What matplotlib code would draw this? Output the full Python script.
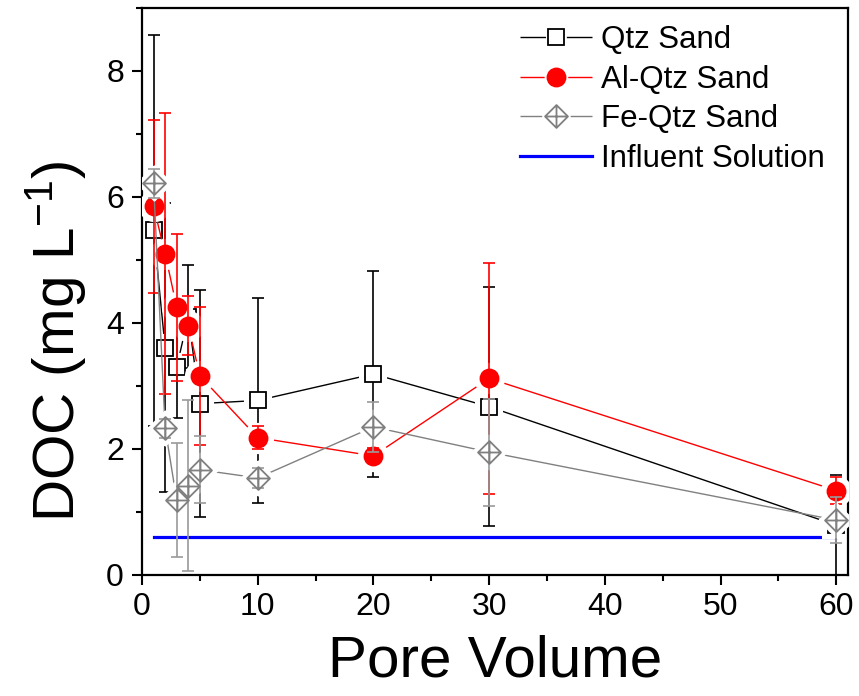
import matplotlib
matplotlib.use("Agg")
import matplotlib.pyplot as plt
from matplotlib.lines import Line2D
from matplotlib.path import Path
from matplotlib.legend_handler import HandlerTuple
from matplotlib.ticker import MultipleLocator

matplotlib.rcParams['font.family'] = ['Liberation Sans', 'DejaVu Sans']
matplotlib.rcParams['mathtext.default'] = 'regular'

# 数据
pore_volume = [1, 2, 3, 4, 5, 10, 20, 30, 60]

qtz = [5.47, 3.61, 3.30, 4.10, 2.72, 2.77, 3.19, 2.67, 0.79]
qtz_err = [3.10, 2.30, 0.81, 0.82, 1.80, 1.63, 1.64, 1.90, 0.80]

al_qtz = [5.85, 5.10, 4.25, 3.96, 3.16, 2.18, 1.89, 3.12, 1.34]
al_qtz_err = [1.37, 2.23, 1.17, 0.47, 1.10, 0.18, 0.12, 1.83, 0.22]

fe_qtz = [6.22, 2.33, 1.19, 1.42, 1.67, 1.54, 2.35, 1.95, 0.87]
fe_qtz_err = [0.23, 0.15, 0.90, 1.36, 0.53, 0.16, 0.40, 0.85, 0.37]

influent_x = [1, 60]
influent_doc = [0.60, 0.60]

labels = ['Qtz Sand', 'Al-Qtz Sand', 'Fe-Qtz Sand', 'Influent Solution']

# 菱形加十字的标记
diamond_cross = Path(
    [(0, 1), (1, 0), (0, -1), (-1, 0), (0, 1), (0, 1), (0, -1), (-1, 0), (1, 0)],
    [Path.MOVETO, Path.LINETO, Path.LINETO, Path.LINETO, Path.CLOSEPOLY,
     Path.MOVETO, Path.LINETO, Path.MOVETO, Path.LINETO])

series = [
    # y, err, 线色, 误差色, 标记, 大小, 填充
    (qtz, qtz_err, 'black', 'black', 's', 11, 'white'),
    (al_qtz, al_qtz_err, 'red', 'red', 'o', 13, 'red'),
    (fe_qtz, fe_qtz_err, '#808080', '#9a9a9a', diamond_cross, 16.5, 'none'),
]

fig = plt.figure(figsize=(8.59, 6.96), dpi=100)
ax = fig.add_axes([0.1653, 0.1739, 0.8217, 0.8146])

leg_fs = 22.5
leg_hl = 2.3
hl_pt = leg_fs * leg_hl

handles = []
z = 2
for y, err, col, ecol, mk, ms, mfc in series:
    ax.plot(pore_volume, y, color=col, lw=1.0, zorder=z)
    # 白色光晕，让折线在标记处断开
    ax.plot(pore_volume, y, ls='none', marker=mk, ms=ms + 8, mfc='white',
            mec='white', mew=1.5, zorder=z + 0.1)
    ax.errorbar(pore_volume, y, yerr=err, fmt='none', ecolor=ecol,
                elinewidth=1.2, capsize=4, capthick=1.2, zorder=z + 0.2)
    ax.plot(pore_volume, y, ls='none', marker=mk, ms=ms, mfc=mfc,
            mec=col, mew=1.3, zorder=z + 0.3)
    # 图例: 中间断开的线 + 标记
    gap = ms + 4
    seg = (hl_pt - gap) / 2
    h_line = Line2D([], [], color=col, lw=1.0, linestyle=(0, (seg, gap, seg + 10, 2)))
    h_mark = Line2D([], [], ls='none', marker=mk, ms=ms, mfc=mfc,
                    mec=col, mew=1.3)
    handles.append((h_line, h_mark))
    z += 1

inf_line, = ax.plot(influent_x, influent_doc, color='#0000ff', lw=2.3, zorder=1.5)
handles.append(inf_line)

ax.set_xlim(0, 61)
ax.set_ylim(0, 9)
ax.xaxis.set_major_locator(MultipleLocator(10))
ax.xaxis.set_minor_locator(MultipleLocator(5))
ax.yaxis.set_major_locator(MultipleLocator(2))
ax.yaxis.set_minor_locator(MultipleLocator(1))

for sp in ax.spines.values():
    sp.set_linewidth(1.6)
ax.tick_params(which='major', direction='out', length=7, width=1.5, labelsize=23)
ax.tick_params(axis='x', which='major', pad=5)
ax.tick_params(axis='y', which='major', pad=6)
ax.tick_params(which='minor', direction='out', length=4, width=1.5)

ax.set_xlabel('Pore Volume', fontsize=42, labelpad=9)
ax.set_ylabel('DOC (mg L$^{-1}$)', fontsize=42, va='center')
ax.yaxis.set_label_coords(-0.122, 0.413)

leg = ax.legend(handles, labels,
                handler_map={tuple: HandlerTuple(ndivide=1, pad=0)},
                loc='upper left', bbox_to_anchor=(520 / 859, 1 - 25 / 696),
                bbox_transform=fig.transFigure, frameon=False,
                prop={'size': leg_fs}, handlelength=leg_hl,
                handletextpad=0.3, labelspacing=0.31,
                borderpad=0, borderaxespad=0)

fig.savefig('out.png', dpi=100)
